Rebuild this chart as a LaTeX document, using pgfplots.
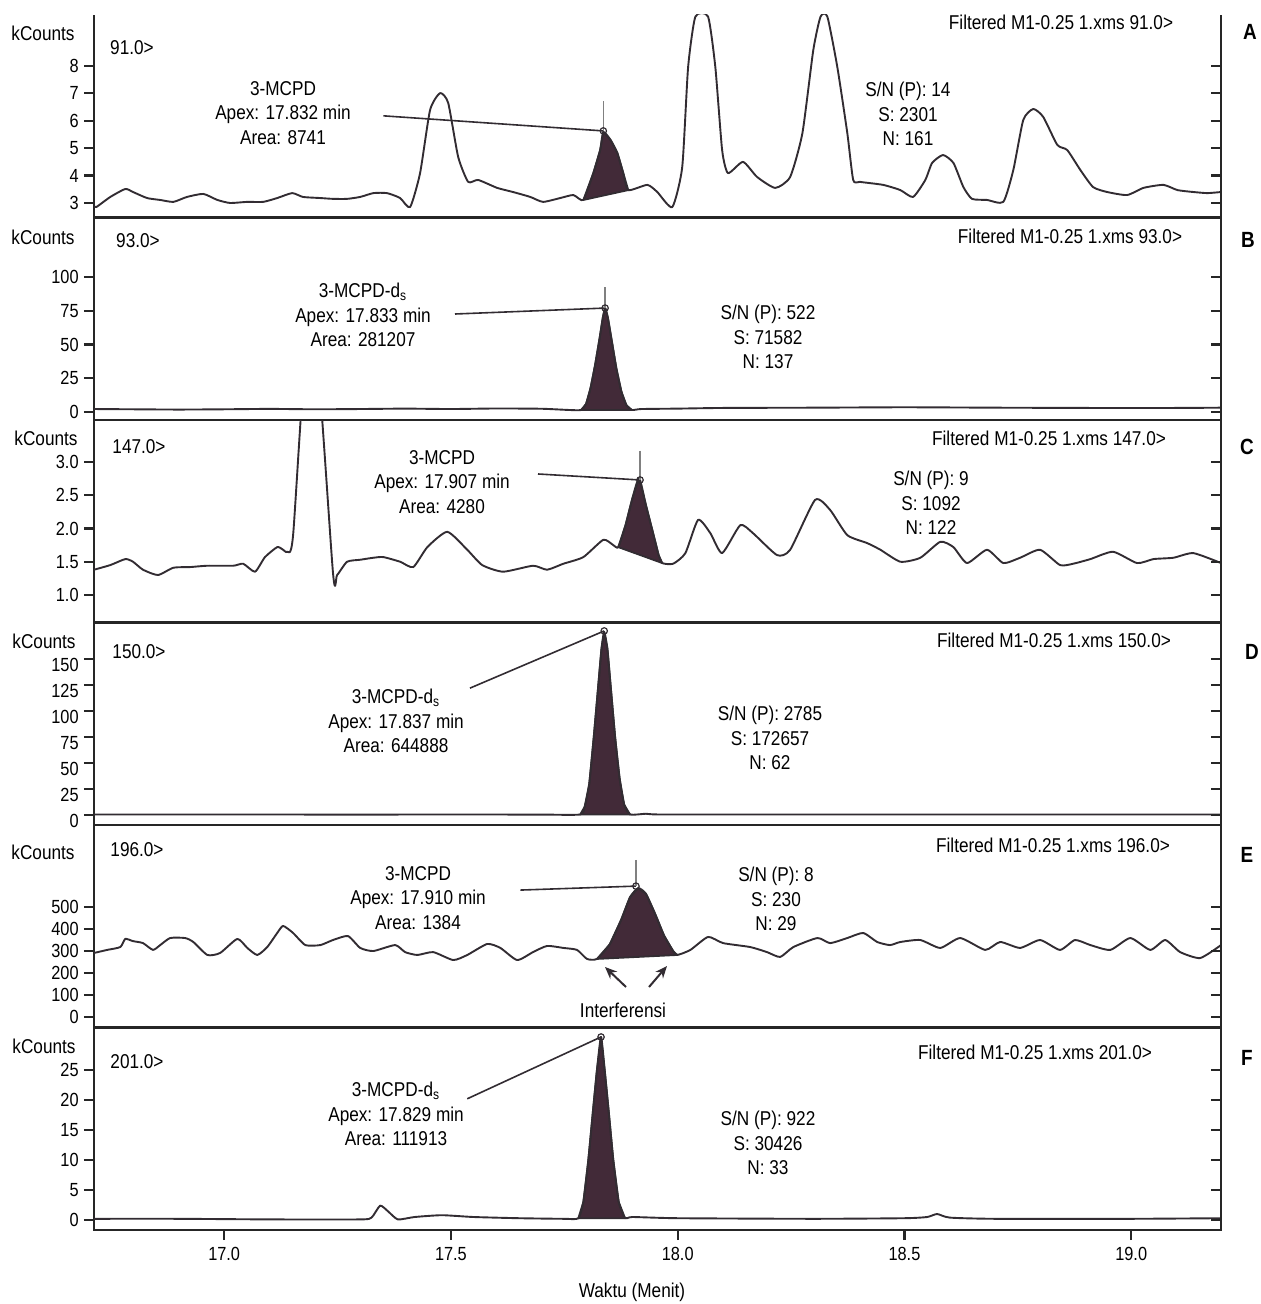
\documentclass[border=0pt]{standalone}
\usepackage{pgfplots}
\pgfplotsset{compat=1.18}
\usepackage{fontspec}
\setmainfont{Liberation Sans}[FakeStretch=0.86]
\usetikzlibrary{arrows.meta}
\definecolor{trace}{RGB}{50,44,50}
\definecolor{peakc}{RGB}{66,42,56}
\pgfplotsset{
 panel/.style={scale only axis, width=563.5pt, height=101.25pt, anchor=south west,
  xmin=16.713, xmax=19.198, xtick=\empty, ytick pos=left, tick align=outside,
  major tick length=5pt, axis line style={line width=1.1pt, black!85},
  every tick/.style={line width=1.1pt, black!85},
  yticklabel style={font=\fontsize{9.5}{11}\selectfont, inner sep=2.5pt},
  xticklabel style={font=\fontsize{9.5}{11}\selectfont},
  /pgf/number format/assume math mode=true},
 rt/.style={panel, hide x axis, axis y line*=right, ytick pos=right, tick align=inside, yticklabels={}},
 tr/.style={trace, line width=0.95pt, smooth, tension=0.35, line join=round},
 pk/.style={fill=peakc, draw=trace, line width=0.9pt, line join=round},
 ld/.style={trace, line width=0.8pt},
 vt/.style={gray, line width=0.8pt},
 ap/.style={only marks, mark=o, mark size=1.6pt, mark options={fill=white, draw=trace, line width=0.6pt}},
}
\begin{document}
\fontsize{10}{12.25}\selectfont
\begin{tikzpicture}
% ---------- A ----------
\begin{axis}[panel, at={(47pt,-108.75pt)}, ymin=2.47, ymax=9.86, ytick={3,4,5,6,7,8}, axis x line*=bottom, x axis line style={-}]
\addplot[pk] coordinates {(17.792,3.11) (17.814,4.09) (17.829,4.93) (17.836,5.59) (17.852,5.30) (17.867,4.82) (17.880,4.09) (17.891,3.47)} -- cycle;
\addplot[tr] coordinates {
(16.713,2.90) (16.718,2.85) (16.749,3.22) (16.782,3.51) (16.799,3.40) (16.830,3.18) (16.859,3.11) (16.888,3.04)
(16.918,3.22) (16.954,3.33) (16.985,3.11) (17.013,3.00) (17.051,3.04) (17.086,3.04) (17.117,3.18) (17.150,3.36)
(17.174,3.22) (17.212,3.18) (17.240,3.15) (17.271,3.15) (17.300,3.22) (17.329,3.36) (17.359,3.36) (17.388,3.18)
(17.410,2.85) (17.432,4.09) (17.454,6.39) (17.476,7.01) (17.494,6.65) (17.516,4.68) (17.538,3.77) (17.560,3.84)
(17.602,3.55) (17.637,3.40) (17.675,3.22) (17.703,3.04) (17.741,3.18) (17.770,3.29) (17.792,3.11) (17.814,4.09)
(17.829,4.93) (17.836,5.59) (17.852,5.30) (17.867,4.82) (17.880,4.09) (17.891,3.47) (17.933,3.66) (17.955,3.40)
(17.988,2.85) (18.010,4.31) (18.023,7.96) (18.039,9.80) (18.067,9.80) (18.083,7.96) (18.098,4.93) (18.111,4.09)
(18.144,4.50) (18.175,3.95) (18.215,3.55) (18.248,3.95) (18.275,5.55) (18.299,8.58) (18.315,9.80) (18.330,9.80)
(18.352,7.96) (18.374,5.55) (18.387,3.84) (18.402,3.77) (18.453,3.66) (18.491,3.47) (18.519,3.22) (18.546,3.84)
(18.561,4.46) (18.585,4.75) (18.608,4.46) (18.630,3.58) (18.649,3.15) (18.682,3.11) (18.718,3.04) (18.740,4.20)
(18.762,6.03) (18.784,6.43) (18.806,6.14) (18.837,5.12) (18.859,4.93) (18.888,4.20) (18.916,3.58) (18.947,3.40)
(18.991,3.29) (19.027,3.55) (19.071,3.66) (19.102,3.47) (19.137,3.40) (19.168,3.36) (19.198,3.40)};
\addplot[ld] coordinates {(17.351,6.18) (17.836,5.63)};
\addplot[vt] coordinates {(17.836,6.72) (17.836,5.63)};
\addplot[ap] coordinates {(17.836,5.63)};
\end{axis}
\begin{axis}[rt, at={(47pt,-108.75pt)}, ymin=2.47, ymax=9.86, ytick={3,4,5,6,7,8}]
\end{axis}
% ---------- B ----------
\begin{axis}[panel, at={(47pt,-210pt)}, ymin=-5.93, ymax=144.1, ytick={0,25,50,75,100}]
\addplot[pk] coordinates {(17.787,1.5) (17.798,6) (17.808,18) (17.818,35) (17.828,55) (17.835,70) (17.840,77) (17.846,70) (17.855,52) (17.865,32) (17.876,15) (17.887,5) (17.899,1.5)} -- cycle;
\addplot[tr] coordinates {
(16.713,2.2) (16.8,2.0) (16.9,1.8) (17.0,2.0) (17.1,2.3) (17.2,2.0) (17.3,2.2) (17.4,2.5) (17.5,2.2) (17.6,2.6)
(17.7,2.4) (17.76,1.5) (17.787,1.5) (17.798,6) (17.808,18) (17.818,35) (17.828,55) (17.835,70) (17.840,77)
(17.846,70) (17.855,52) (17.865,32) (17.876,15) (17.887,5) (17.899,1.5) (17.92,2.2) (18.0,2.5) (18.1,3.0)
(18.3,3.2) (18.5,3.5) (18.7,3.2) (18.9,3.0) (19.1,3.0) (19.198,3.2)};
\addplot[ld] coordinates {(17.509,72.6) (17.840,77)};
\addplot[vt] coordinates {(17.840,92.6) (17.840,77)};
\addplot[ap] coordinates {(17.840,77)};
\end{axis}
\begin{axis}[rt, at={(47pt,-210pt)}, ymin=-5.93, ymax=144.1, ytick={0,25,50,75,100}]
\end{axis}
% ---------- C ----------
\begin{axis}[panel, at={(47pt,-311.25pt)}, ymin=0.586, ymax=3.632, ytick={1,1.5,2,2.5,3},
  yticklabel style={/pgf/number format/fixed, /pgf/number format/fixed zerofill, /pgf/number format/precision=1}]
\addplot[pk] coordinates {(17.869,1.72) (17.885,2.05) (17.900,2.45) (17.915,2.76) (17.930,2.35) (17.945,1.95) (17.958,1.60) (17.966,1.48)} -- cycle;
\addplot[tr] coordinates {
(16.713,1.38) (16.749,1.45) (16.782,1.54) (16.799,1.50) (16.821,1.38) (16.854,1.30) (16.888,1.41) (16.925,1.42)
(16.963,1.44) (17.020,1.44) (17.042,1.47) (17.068,1.35) (17.090,1.57) (17.117,1.72) (17.130,1.68) (17.139,1.65)
(17.152,1.90) (17.192,5.50) (17.240,1.33) (17.249,1.30) (17.271,1.50) (17.300,1.53) (17.329,1.56) (17.351,1.57)
(17.388,1.50) (17.417,1.42) (17.448,1.72) (17.492,1.95) (17.536,1.68) (17.569,1.45) (17.615,1.35) (17.681,1.44)
(17.712,1.38) (17.748,1.47) (17.792,1.57) (17.836,1.83) (17.858,1.75) (17.869,1.72) (17.885,2.05) (17.900,2.45)
(17.915,2.76) (17.930,2.35) (17.945,1.95) (17.958,1.60) (17.966,1.48) (17.990,1.47) (18.017,1.63) (18.045,2.13)
(18.072,1.93) (18.098,1.63) (18.138,2.05) (18.166,1.93) (18.219,1.60) (18.248,1.68) (18.303,2.43) (18.336,2.28)
(18.374,1.90) (18.418,1.78) (18.447,1.68) (18.491,1.50) (18.535,1.56) (18.579,1.80) (18.608,1.72) (18.638,1.48)
(18.682,1.68) (18.718,1.48) (18.755,1.56) (18.799,1.68) (18.843,1.45) (18.872,1.47) (18.910,1.54) (18.960,1.65)
(19.013,1.48) (19.049,1.54) (19.093,1.56) (19.137,1.63) (19.198,1.48)};
\addplot[ld] coordinates {(17.692,2.82) (17.917,2.73)};
\addplot[vt] coordinates {(17.917,3.17) (17.917,2.73)};
\addplot[ap] coordinates {(17.917,2.73)};
\end{axis}
\begin{axis}[rt, at={(47pt,-311.25pt)}, ymin=0.586, ymax=3.632, ytick={1,1.5,2,2.5,3}]
\end{axis}
% ---------- D ----------
\begin{axis}[panel, at={(47pt,-412.5pt)}, ymin=-9.62, ymax=185.1, ytick={0,25,50,75,100,125,150},
  yticklabel style={yshift=-3pt}]
\addplot[pk] coordinates {(17.785,0.5) (17.795,8) (17.805,30) (17.815,75) (17.825,125) (17.832,160) (17.838,176) (17.845,160) (17.852,125) (17.862,75) (17.872,35) (17.882,10) (17.895,0.5)} -- cycle;
\addplot[tr] coordinates {
(16.713,0.5) (17.0,0.5) (17.3,0.4) (17.5,0.5) (17.7,0.4) (17.785,0.5) (17.795,8) (17.805,30) (17.815,75) (17.825,125)
(17.832,160) (17.838,176) (17.845,160) (17.852,125) (17.862,75) (17.872,35) (17.882,10) (17.895,0.5) (17.93,1.2)
(17.96,0.5) (18.2,0.5) (18.5,0.5) (18.8,0.5) (19.198,0.5)};
\addplot[ld] coordinates {(17.542,122) (17.838,177)};
\addplot[ap] coordinates {(17.838,177)};
\end{axis}
\begin{axis}[rt, at={(47pt,-412.5pt)}, ymin=-9.62, ymax=185.1, ytick={0,25,50,75,100,125,150}]
\end{axis}
% ---------- E ----------
\begin{axis}[panel, at={(47pt,-513.75pt)}, ymin=-47.7, ymax=872.7, ytick={0,100,200,300,400,500}]
\addplot[pk] coordinates {(17.822,264) (17.850,330) (17.875,440) (17.895,545) (17.913,586) (17.930,560) (17.950,470) (17.970,370) (17.990,300) (17.999,282)} -- cycle;
\addplot[tr] coordinates {
(16.713,291) (16.742,305) (16.771,318) (16.782,355) (16.799,345) (16.821,336) (16.843,305) (16.859,327)
(16.881,359) (16.914,359) (16.932,341) (16.963,282) (16.991,291) (17.029,355) (17.051,314) (17.073,282)
(17.095,318) (17.117,382) (17.130,414) (17.152,382) (17.179,327) (17.212,327) (17.240,350) (17.273,368)
(17.300,314) (17.329,300) (17.377,327) (17.399,295) (17.426,282) (17.461,295) (17.505,259) (17.536,282)
(17.580,332) (17.609,314) (17.646,259) (17.681,295) (17.712,323) (17.748,314) (17.778,305) (17.800,264)
(17.822,264) (17.850,330) (17.875,440) (17.895,545) (17.913,586) (17.930,560) (17.950,470) (17.970,370)
(17.990,300) (17.999,282) (18.028,305) (18.067,364) (18.100,336) (18.160,318) (18.197,295) (18.226,273)
(18.255,318) (18.308,359) (18.336,336) (18.374,359) (18.409,382) (18.440,341) (18.468,327) (18.491,341)
(18.535,350) (18.579,314) (18.623,359) (18.678,305) (18.711,341) (18.755,314) (18.799,350) (18.843,305)
(18.876,350) (18.910,327) (18.954,305) (18.998,359) (19.042,305) (19.075,350) (19.108,295) (19.152,268) (19.198,327)};
\addplot[ld] coordinates {(17.653,577) (17.908,595)};
\addplot[vt] coordinates {(17.908,714) (17.908,595)};
\addplot[ap] coordinates {(17.908,595)};
\end{axis}
\begin{axis}[rt, at={(47pt,-513.75pt)}, ymin=-47.7, ymax=872.7, ytick={0,100,200,300,400,500}]
\end{axis}
% ---------- F ----------
\begin{axis}[panel, at={(47pt,-615pt)}, ymin=-1.667, ymax=32.08, ytick={0,5,10,15,20,25},
  xtick={17,17.5,18,18.5,19}, xtick pos=bottom,
  xticklabel style={/pgf/number format/fixed, /pgf/number format/fixed zerofill, /pgf/number format/precision=1}]
\addplot[pk] coordinates {(17.781,0.3) (17.792,3) (17.803,10) (17.813,18) (17.822,25) (17.831,30.5) (17.839,25) (17.848,18) (17.858,10) (17.870,3) (17.884,0.3)} -- cycle;
\addplot[tr] coordinates {
(16.713,0.2) (16.9,0.2) (17.1,0.1) (17.3,0.1) (17.325,0.4) (17.344,2.4) (17.362,1.4) (17.383,0.1) (17.42,0.5)
(17.48,0.8) (17.55,0.5) (17.65,0.3) (17.75,0.2) (17.781,0.3) (17.792,3) (17.803,10) (17.813,18) (17.822,25)
(17.831,30.5) (17.839,25) (17.848,18) (17.858,10) (17.870,3) (17.884,0.3) (17.9,0.5) (18.0,0.3) (18.3,0.2)
(18.5,0.3) (18.55,0.5) (18.572,1.0) (18.6,0.4) (18.7,0.2) (19.0,0.2) (19.198,0.3)};
\addplot[ld] coordinates {(17.536,20.2) (17.831,30.5)};
\addplot[ap] coordinates {(17.831,30.5)};
\end{axis}
\begin{axis}[rt, at={(47pt,-615pt)}, ymin=-1.667, ymax=32.08, ytick={0,5,10,15,20,25}]
\end{axis}
% ---------- annotations ----------
\begin{scope}[x=0.5pt, y=-0.5pt, every node/.style={inner sep=0pt, align=center}]
\useasboundingbox (0,0) rectangle (1260,1304);
\foreach \xx/\yy in {43/33,43/237,46/438,44/641,43/852,44/1046} {\node at (\xx,\yy) {kCounts};}
\node at (132,48) {91.0>};
\node at (138,241) {93.0>};
\node at (139,447) {147.0>};
\node at (139,652) {150.0>};
\node at (137,850) {196.0>};
\node at (137,1062) {201.0>};
\node at (1061,22) {Filtered M1-0.25 1.xms 91.0>};
\node at (1070,236) {Filtered M1-0.25 1.xms 93.0>};
\node at (1049,438) {Filtered M1-0.25 1.xms 147.0>};
\node at (1054,640) {Filtered M1-0.25 1.xms 150.0>};
\node at (1053,845) {Filtered M1-0.25 1.xms 196.0>};
\node at (1035,1052) {Filtered M1-0.25 1.xms 201.0>};
\begin{scope}[every node/.append style={font=\fontsize{11}{13}\selectfont\bfseries}]
\node at (1250,32) {A};
\node at (1248,240) {B};
\node at (1247,447) {C};
\node at (1252,652) {D};
\node at (1247,855) {E};
\node at (1247,1058) {F};
\end{scope}
\node at (283,113) {3-MCPD\\Apex: 17.832 min\\Area: 8741};
\node at (363,315) {3-MCPD-d\textsubscript{s}\\Apex: 17.833 min\\Area: 281207};
\node at (442,482) {3-MCPD\\Apex: 17.907 min\\Area: 4280};
\node at (396,721) {3-MCPD-d\textsubscript{s}\\Apex: 17.837 min\\Area: 644888};
\node at (418,898) {3-MCPD\\Apex: 17.910 min\\Area: 1384};
\node at (396,1114) {3-MCPD-d\textsubscript{s}\\Apex: 17.829 min\\Area: 111913};
\node at (908,114) {S/N (P): 14\\S: 2301\\N: 161};
\node at (768,337) {S/N (P): 522\\S: 71582\\N: 137};
\node at (931,503) {S/N (P): 9\\S: 1092\\N: 122};
\node at (770,738) {S/N (P): 2785\\S: 172657\\N: 62};
\node at (776,899) {S/N (P): 8\\S: 230\\N: 29};
\node at (768,1143) {S/N (P): 922\\S: 30426\\N: 33};
\node at (623,1010) {Interferensi};
\draw[-{Stealth[length=6pt,width=5pt]}, line width=1pt, trace] (626,987) -- (605,967);
\draw[-{Stealth[length=6pt,width=5pt]}, line width=1pt, trace] (649,987) -- (667,966);
\node at (632,1292) {Waktu (Menit)};
\end{scope}
\end{tikzpicture}
\end{document}
